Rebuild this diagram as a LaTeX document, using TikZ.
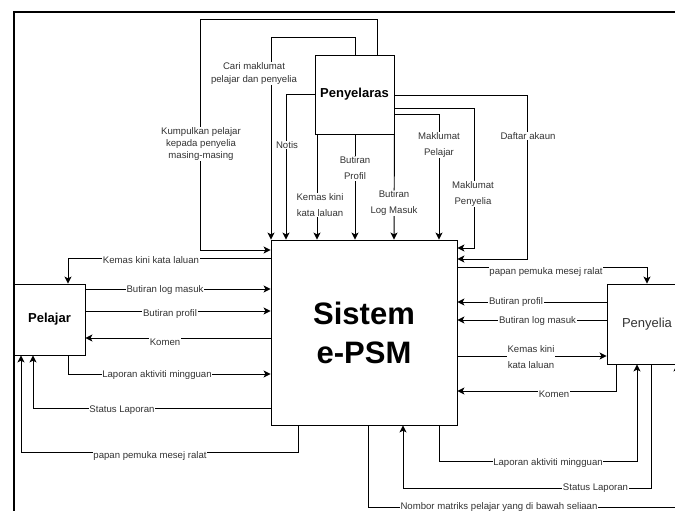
\documentclass[tikz,border=0pt]{standalone}
\usepackage{fontspec}
\setmainfont{Liberation Sans}
\usetikzlibrary{arrows.meta}
\begin{document}
\begin{tikzpicture}[x=1pt,y=-1pt,
  box/.style={draw=black, line width=0.9pt, fill=white, inner sep=0pt},
  flow/.style={draw=black, line width=0.95pt, -{Stealth[length=7pt,width=7pt,inset=1.8pt]}},
  lbl/.style={fill=white, text=black!80, font=\fontsize{9.6}{12}\selectfont, inner sep=0.6pt, align=center},
  lbltwo/.style={lbl, font=\fontsize{9.6}{16}\selectfont},
]
\useasboundingbox (0,0) rectangle (675,511);
\clip (0,0) rectangle (675,511);

% frame
\draw[line width=2pt] (13.5,530) -- (13.5,12.5) -- (700,12.5);

% boxes
\node[box, minimum width=186, minimum height=185, align=center,
      font=\bfseries\fontsize{31}{39}\selectfont] (sys) at (364,332.5) {Sistem\\e-PSM};
\node[box, minimum width=79, minimum height=79,
      font=\bfseries\fontsize{13}{15}\selectfont] (pyr) at (354.5,94.5) {Penyelaras};
\node[box, minimum width=71, minimum height=71,
      font=\bfseries\fontsize{13}{15}\selectfont] (pel) at (49.5,319.5) {Pelajar};
\node[box, minimum width=80, minimum height=80, text=black!80,
      font=\fontsize{13}{15}\selectfont] (pye) at (647,324) {Penyelia};

% ---- top connectors (Penyelaras -> Sistem)
\draw[flow] (377,0 |- pyr.north) -- (377,19) -- (200,19) -- (200,250) -- (sys.west |- 0,250);
\draw[flow] (355,0 |- pyr.north) -- (355,37) -- (271,37) -- (271,0 |- sys.north);
\draw[flow] (pyr.west) -| (286,0 |- sys.north);
\draw[flow] (317,0 |- pyr.south) -- (317,0 |- sys.north);
\draw[flow] (355,0 |- pyr.south) -- (355,0 |- sys.north);
\draw[flow] (pyr.south east) -- (394,0 |- sys.north);
\draw[flow] (pyr.east |- 0,114) -- (439,114) -- (439,0 |- sys.north);
\draw[flow] (pyr.east |- 0,108) -- (474,108) -- (474,248) -- (sys.east |- 0,248);
\draw[flow] (pyr.east |- 0,95) -- (527,95) -- (527,259) -- (sys.east |- 0,259);

% ---- left connectors (Pelajar)
\draw[flow] (sys.west |- 0,258) -- (68,258) -- (68,0 |- pel.north);
\draw[flow] (pel.east |- 0,289) -- (sys.west |- 0,289);
\draw[flow] (pel.east |- 0,311) -- (sys.west |- 0,311);
\draw[flow] (sys.west |- 0,338) -- (pel.east |- 0,338);
\draw[flow] (68,0 |- pel.south) -- (68,374) -- (sys.west |- 0,374);
\draw[flow] (sys.west |- 0,408) -- (33,408) -- (33,0 |- pel.south);
\draw[flow] (298,0 |- sys.south) -- (298,452) -- (21,452) -- (21,0 |- pel.south);

% ---- right connectors (Penyelia)
\draw[flow] (sys.east |- 0,267) -- (647,267) -- (647,0 |- pye.north);
\draw[flow] (pye.west |- 0,302) -- (sys.east |- 0,302);
\draw[flow] (pye.west |- 0,320) -- (sys.east |- 0,320);
\draw[flow] (sys.east |- 0,356) -- (pye.west |- 0,356);
\draw[flow] (616,0 |- pye.south) -- (616,391) -- (sys.east |- 0,391);

% ---- bottom connectors
\draw[flow] (439,0 |- sys.south) -- (439,461) -- (637,461) -- (637,0 |- pye.south);
\draw[flow] (651,0 |- pye.south) -- (651,488) -- (403,488) -- (403,0 |- sys.south);
\draw[flow] (368,0 |- sys.south) -- (368,507) -- (677,507) -- (677,0 |- pye.south);

% ---- labels
\node[lbl, font=\fontsize{9.6}{12}\selectfont] (l1) at (201,144) {Kumpulkan pelajar\\kepada penyelia\\masing-masing};
\node[lbl, font=\fontsize{9.6}{13}\selectfont] (l2) at (254,73.5) {Cari maklumat\\pelajar dan penyelia};
\node[lbl] (l3) at (287,145) {Notis};
\node[lbltwo] (l4) at (320,205) {Kemas kini\\kata laluan};
\node[lbltwo] (l5) at (355,168.5) {Butiran\\Profil};
\node[lbltwo] (l6) at (394,203) {Butiran\\Log Masuk};
\node[lbltwo] (l7) at (439,145) {Maklumat\\Pelajar};
\node[lbltwo] (l8) at (473,194) {Maklumat\\Penyelia};
\node[lbl] (l9) at (528,136) {Daftar akaun};

\node[lbl] (l10) at (151,260) {Kemas kini kata laluan};
\node[lbl] (l11) at (165,290) {Butiran log masuk};
\node[lbl] (l12) at (170,314) {Butiran profil};
\node[lbl] (l13) at (165,342) {Komen};
\node[lbl] (l14) at (157,375) {Laporan aktiviti mingguan};
\node[lbl] (l15) at (122,410) {Status Laporan};
\node[lbl] (l16) at (150,456) {papan pemuka mesej ralat};

\node[lbl] (l17) at (546,272) {papan pemuka mesej ralat};
\node[lbl] (l18) at (516,302.5) {Butiran profil};
\node[lbl] (l19) at (537.5,321) {Butiran log masuk};
\node[lbltwo] (l20) at (531,357.5) {Kemas kini\\kata laluan};
\node[lbl] (l21) at (554,394) {Komen};

\node[lbl] (l22) at (548,463.5) {Laporan aktiviti mingguan};
\node[lbl] (l23) at (595.5,488.5) {Status Laporan};
\node[lbl] (l24) at (499,507) {Nombor matriks pelajar yang di bawah seliaan};
\end{tikzpicture}
\end{document}
